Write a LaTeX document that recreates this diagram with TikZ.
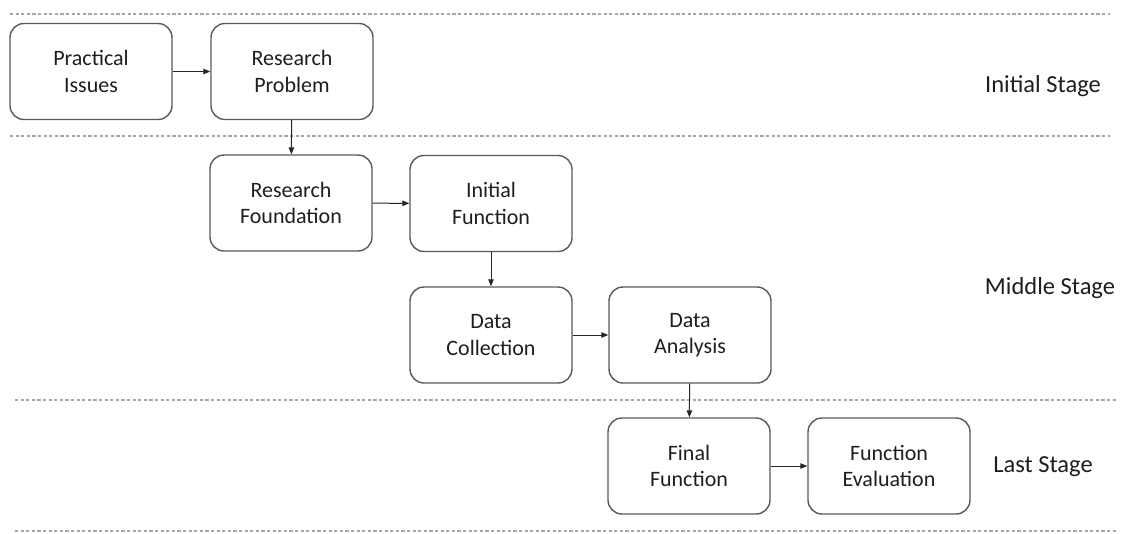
\documentclass[tikz,border=0pt]{standalone}
\usepackage{fontspec}
\setmainfont{Carlito}
\usetikzlibrary{arrows.meta}
\definecolor{boxline}{HTML}{595959}
\definecolor{sepline}{HTML}{A6A6A6}
\definecolor{txt}{HTML}{1E1E1E}
\tikzset{
  stepbox/.style={draw=boxline, line width=1.4pt, rounded corners=14pt,
    minimum width=162pt, minimum height=96pt, align=center, text=txt,
    font=\fontsize{22}{26.5}\selectfont},
  flow/.style={draw=black!85, line width=1pt, -{Triangle[length=7pt,width=5.5pt]}},
  sep/.style={draw=sepline, line width=1.6pt, dash pattern=on 3.2pt off 2.4pt},
  stagelabel/.style={text=txt, font=\fontsize{24.5}{28}\selectfont}
}
\begin{document}
\begin{tikzpicture}[x=1pt,y=-1pt]
\useasboundingbox (0,0) rectangle (1124,533);

% stage separators
\coordinate (s1a) at (10,14);   \coordinate (s1b) at (1110,14);
\coordinate (s2a) at (10,136);  \coordinate (s2b) at (1110,136);
\coordinate (s3a) at (15,400);  \coordinate (s3b) at (1116,400);
\coordinate (s4a) at (15,531);  \coordinate (s4b) at (1116,531);
\draw[sep] (s1a) -- (s1b);
\draw[sep] (s2a) -- (s2b);
\draw[sep] (s3a) -- (s3b);
\draw[sep] (s4a) -- (s4b);

% stage names
\node[stagelabel] (lInit) at (1043,86) {Initial Stage};
\node[stagelabel] (lMid)  at (1050,288) {Middle Stage};
\node[stagelabel] (lLast) at (1043,467) {Last Stage};

% process steps
\node[stepbox] (pi) at (91,71.5)  {Practical\\Issues};
\node[stepbox] (rp) at (292,71.5) {Research\\Problem};
\node[stepbox] (rf) at (291,203)  {Research\\Foundation};
\node[stepbox] (if) at (491,203.5){Initial\\Function};
\node[stepbox] (dc) at (491,335)  {Data\\Collection};
\node[stepbox] (da) at (690,335)  {Data\\Analysis};
\node[stepbox] (ff) at (689,466)  {Final\\Function};
\node[stepbox] (fe) at (889,466)  {Function\\Evaluation};

% flow between steps
\draw[flow] (pi) -- (rp);
\draw[flow] (rp) -- (rf);
\draw[flow] (rf) -- (if);
\draw[flow] (if) -- (dc);
\draw[flow] (dc) -- (da);
\draw[flow] (da) -- (ff);
\draw[flow] (ff) -- (fe);
\end{tikzpicture}
\end{document}
